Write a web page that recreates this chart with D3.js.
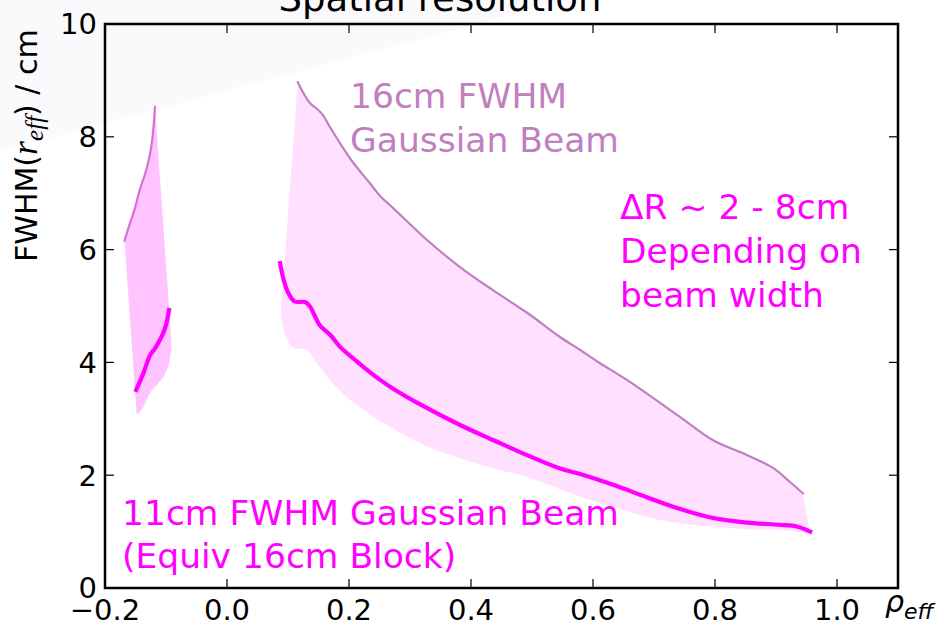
<!DOCTYPE html>
<html><head><meta charset="utf-8">
<script src="https://cdn.jsdelivr.net/npm/d3@7"></script>
<style>body{margin:0;background:#fff}svg{display:block}text{font-family:"DejaVu Sans",sans-serif}</style>
</head><body>
<script>
// ---- data ----
const xTicks = [-0.2, 0.0, 0.2, 0.4, 0.6, 0.8, 1.0];
const xTickLabels = ["\u22120.2", "0.0", "0.2", "0.4", "0.6", "0.8", "1.0"];
const yTicks = [0, 2, 4, 6, 8, 10];
const yTickLabels = ["0", "2", "4", "6", "8", "10"];

// 16cm FWHM beam (upper curve), rho < 0 part
const rho16L  = [-0.168, -0.159, -0.151, -0.143, -0.134, -0.127, -0.122, -0.118];
const fwhm16L = [6.16, 6.47, 6.73, 7.06, 7.35, 7.65, 8.00, 8.53];
// 11cm FWHM beam, rho < 0 part
const rho11L  = [-0.149, -0.137, -0.126, -0.118, -0.107, -0.100, -0.095];
const fwhm11L = [3.51, 3.81, 4.13, 4.25, 4.46, 4.66, 4.93];
// lower edge of shaded band, rho < 0 part
const rhoLoL  = [-0.148, -0.140, -0.132, -0.123, -0.115, -0.104, -0.095, -0.091];
const fwhmLoL = [3.07, 3.16, 3.33, 3.51, 3.60, 3.75, 3.98, 4.34];

// 16cm FWHM beam, rho > 0 part
const rho16R  = [0.116, 0.125, 0.136, 0.149, 0.157, 0.169, 0.185, 0.207, 0.234, 0.251, 0.272, 0.328, 0.382, 0.436, 0.492, 0.546, 0.579, 0.611, 0.661, 0.743, 0.797, 0.852, 0.895, 0.923, 0.944];
const fwhm16R = [8.97, 8.78, 8.60, 8.48, 8.39, 8.17, 7.89, 7.54, 7.18, 6.95, 6.74, 6.17, 5.69, 5.28, 4.88, 4.45, 4.22, 3.99, 3.65, 3.03, 2.62, 2.36, 2.13, 1.88, 1.68];
// 11cm FWHM beam, rho > 0 part
const rho11R  = [0.087, 0.093, 0.101, 0.111, 0.128, 0.136, 0.152, 0.169, 0.185, 0.218, 0.251, 0.273, 0.316, 0.382, 0.437, 0.491, 0.546, 0.579, 0.633, 0.688, 0.743, 0.797, 0.852, 0.907, 0.934, 0.956];
const fwhm11R = [5.76, 5.46, 5.22, 5.08, 5.07, 4.99, 4.66, 4.49, 4.28, 3.97, 3.69, 3.53, 3.26, 2.89, 2.62, 2.36, 2.12, 2.02, 1.83, 1.61, 1.40, 1.24, 1.16, 1.12, 1.09, 1.00];
// lower edge of shaded band, rho > 0 part
const rhoLoR  = [0.088, 0.095, 0.106, 0.114, 0.128, 0.136, 0.152, 0.174, 0.202, 0.218, 0.234, 0.273, 0.328, 0.382, 0.436, 0.492, 0.579, 0.633, 0.688, 0.743, 0.797, 0.852, 0.907, 0.956];
const fwhmLoR = [4.87, 4.52, 4.28, 4.24, 4.24, 4.16, 3.92, 3.63, 3.33, 3.21, 3.08, 2.82, 2.51, 2.30, 2.12, 1.97, 1.62, 1.44, 1.26, 1.15, 1.09, 1.04, 1.03, 0.97];

const title = "Spatial resolution";
const note16 = ["16cm FWHM", "Gaussian Beam"];
const noteDR = ["\u0394R ~ 2 - 8cm", "Depending on", "beam width"];
const note11 = ["11cm FWHM Gaussian Beam", "(Equiv 16cm Block)"];

// ---- drawing ----
const W = 940, H = 626;
const svg = d3.select("body").append("svg").attr("width", W).attr("height", H);

// faint background wedge
svg.append("polygon").attr("points", "0,0 0,151 566,0").attr("fill", "#fafafc");

const x = d3.scaleLinear().domain([-0.2, 1.1]).range([105, 898]);
const y = d3.scaleLinear().domain([0, 10]).range([588, 24]);

const zip = (a, b) => a.map((v, i) => [v, b[i]]);
const line = d3.line().x(d => x(d[0])).y(d => y(d[1])).curve(d3.curveCatmullRom.alpha(0.5));

function band(rU, fU, rL, fL) {
  return line(zip(rU, fU)) + "L" + line(zip(rL, fL).reverse()).slice(1) + "Z";
}

svg.append("path").attr("d", band(rho16L, fwhm16L, rhoLoL, fwhmLoL)).attr("fill", "#ffc4ff");
svg.append("path").attr("d", band(rho16R, fwhm16R, rhoLoR, fwhmLoR)).attr("fill", "#ffe0ff");

const c16 = "#c080c0", c11 = "#ff00ff";
svg.append("path").attr("d", line(zip(rho16L, fwhm16L))).attr("fill", "none")
  .attr("stroke", "#d870d8").attr("stroke-width", 2.2).attr("stroke-linecap", "square");
svg.append("path").attr("d", line(zip(rho16R, fwhm16R))).attr("fill", "none")
  .attr("stroke", c16).attr("stroke-width", 2.2).attr("stroke-linecap", "square");
[[rho11L, fwhm11L], [rho11R, fwhm11R]].forEach(([r, f]) => {
  svg.append("path").attr("d", line(zip(r, f))).attr("fill", "none")
    .attr("stroke", c11).attr("stroke-width", 4.2).attr("stroke-linecap", "square")
    .attr("stroke-linejoin", "round");
});

// axes frame
const x0 = 105, x1 = 898, y0 = 24, y1 = 588;
const tl = 9;
const gT = svg.append("g");
xTicks.forEach(v => {
  const px = x(v);
  gT.append("line").attr("x1", px).attr("x2", px).attr("y1", y1).attr("y2", y1 - tl).attr("stroke", "#000").attr("stroke-width", 1.2);
  gT.append("line").attr("x1", px).attr("x2", px).attr("y1", y0).attr("y2", y0 + tl).attr("stroke", "#000").attr("stroke-width", 1.2);
});
yTicks.forEach(v => {
  const py = y(v);
  gT.append("line").attr("x1", x0).attr("x2", x0 + tl).attr("y1", py).attr("y2", py).attr("stroke", "#000").attr("stroke-width", 1.2);
  gT.append("line").attr("x1", x1).attr("x2", x1 - tl).attr("y1", py).attr("y2", py).attr("stroke", "#000").attr("stroke-width", 1.2);
});
svg.append("rect").attr("x", x0).attr("y", y0).attr("width", x1 - x0).attr("height", y1 - y0)
  .attr("fill", "none").attr("stroke", "#000").attr("stroke-width", 2.5);

// tick labels
xTicks.forEach((v, i) => {
  svg.append("text").attr("x", x(v)).attr("y", 620).attr("text-anchor", "middle")
    .attr("font-size", 29).text(xTickLabels[i]);
});
yTicks.forEach((v, i) => {
  svg.append("text").attr("x", 97).attr("y", y(v)).attr("dy", "0.36em").attr("text-anchor", "end")
    .attr("font-size", 29).text(yTickLabels[i]);
});

// title
svg.append("text").attr("x", 440).attr("y", 11).attr("text-anchor", "middle")
  .attr("font-size", 37).text(title);

// y label
const yl = svg.append("text").attr("transform", "translate(37,262) rotate(-90)").attr("font-size", 30);
yl.append("tspan").text("FWHM(");
yl.append("tspan").attr("font-family", "Liberation Serif, serif").attr("font-style", "italic").attr("font-size", 36).text("r");
yl.append("tspan").attr("font-family", "Liberation Serif, serif").attr("font-style", "italic").attr("font-size", 25).attr("dy", 6).text("eff");
yl.append("tspan").attr("dy", -6).text(") / cm");

// x label
const xl = svg.append("text").attr("x", 885).attr("y", 612).attr("font-family", "Liberation Serif, serif").attr("font-style", "italic");
xl.append("tspan").attr("font-size", 30).text("\u03c1");
xl.append("tspan").attr("font-size", 22).attr("dy", 7).text("eff");

// annotations
note16.forEach((t, i) => svg.append("text").attr("x", 350).attr("y", 108 + i * 44).attr("font-size", 34.5).attr("fill", c16).text(t));
noteDR.forEach((t, i) => svg.append("text").attr("x", 620).attr("y", 219 + i * 44).attr("font-size", 34.5).attr("fill", c11).text(t));
note11.forEach((t, i) => svg.append("text").attr("x", 122).attr("y", 525 + i * 43).attr("font-size", 34.5).attr("fill", c11).text(t));
</script>
</body></html>
